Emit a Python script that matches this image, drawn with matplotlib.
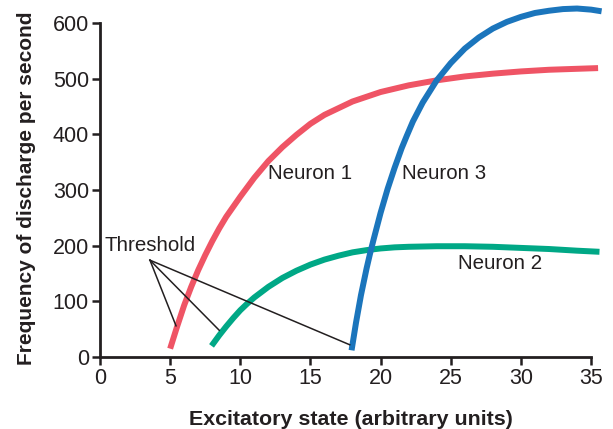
import matplotlib
matplotlib.use("Agg")
import matplotlib.pyplot as plt

# Neuron 1 (red)
n1_x = [5.0, 5.5, 6.0, 6.5, 7.0, 7.5, 8.0, 8.5, 9.0, 10.0, 11.0, 12.0, 13.0,
        14.0, 15.0, 16.0, 18.0, 20.0, 22.0, 24.0, 26.0, 28.0, 30.0, 32.0, 35.5]
n1_y = [15, 55, 93, 126, 156, 183, 208, 231, 252, 288, 322, 352, 377,
        399, 419, 435, 459, 476, 488, 497, 504, 509, 513, 516, 519]

# Neuron 2 (green)
n2_x = [7.95, 8.5, 9.0, 9.5, 10.0, 10.5, 11.0, 12.0, 13.0, 14.0, 15.0, 16.0,
        17.0, 18.0, 19.0, 20.0, 21.0, 22.0, 24.0, 26.0, 28.0, 30.0, 32.0, 34.0, 35.6]
n2_y = [20, 39, 55, 70, 84, 96, 107, 126, 142, 155, 166, 175,
        182, 188, 192, 195, 197, 198, 199, 199, 198, 196, 194, 191, 189]

# Neuron 3 (blue)
n3_x = [17.93, 18.25, 18.6, 19.0, 19.24, 19.5, 20.0, 20.5, 21.0, 21.5, 21.86,
        22.3, 23.0, 24.0, 25.0, 26.0, 27.0, 28.0, 29.0, 30.0, 31.0, 32.0,
        33.0, 34.0, 35.0, 35.75]
n3_y = [12, 62, 111, 159, 185, 211, 259, 302, 340, 375, 397,
        423, 457, 497, 528, 554, 574, 590, 602, 611, 618, 622,
        625, 626, 624, 621]

xticks = [0, 5, 10, 15, 20, 25, 30, 35]
yticks = [0, 100, 200, 300, 400, 500, 600]

# Threshold pointer: apex and endpoints on each curve
thr_apex = (3.56, 174)
thr_ends = [(5.42, 56), (8.5, 48), (17.8, 22)]

TXT = "#231f20"
plt.rcParams["font.family"] = ["Liberation Sans", "DejaVu Sans"]

fig = plt.figure(figsize=(6.13, 4.29), dpi=100)
ax = fig.add_axes([0.1631, 0.1678, 0.824, 0.8305])

ax.plot(n1_x, n1_y, color="#ef5465", lw=4.3, solid_capstyle="butt")
ax.plot(n2_x, n2_y, color="#00a886", lw=4.3, solid_capstyle="butt")
ax.plot(n3_x, n3_y, color="#1b75bc", lw=4.3, solid_capstyle="butt")

for ex, ey in thr_ends:
    ax.plot([thr_apex[0], ex], [thr_apex[1], ey], color=TXT, lw=1.1)

ax.text(0.35, 200, "Threshold", fontsize=14.8, color=TXT, va="center", ha="left")
ax.text(12.0, 330, "Neuron 1", fontsize=14.8, color=TXT, va="center", ha="left")
ax.text(21.5, 330, "Neuron 3", fontsize=14.8, color=TXT, va="center", ha="left")
ax.text(25.55, 168, "Neuron 2", fontsize=14.8, color=TXT, va="center", ha="left")

ax.set_xlim(0, 36)
ax.set_ylim(0, 640)
ax.set_xticks(xticks)
ax.set_yticks(yticks)
ax.spines["top"].set_visible(False)
ax.spines["right"].set_visible(False)
ax.spines["bottom"].set_bounds(0, 35)
ax.spines["left"].set_bounds(0, 600)
for s in ("bottom", "left"):
    ax.spines[s].set_linewidth(2)
    ax.spines[s].set_color(TXT)
ax.tick_params(direction="out", length=6, width=1.8, colors=TXT,
               labelsize=15.5, pad=2)

ax.set_xlabel("Excitatory state (arbitrary units)", fontsize=15.4,
              fontweight="bold", color=TXT)
ax.set_ylabel("Frequency of discharge per second", fontsize=15.0,
              fontweight="bold", color=TXT)
ax.xaxis.set_label_coords(0.496, -0.148)
ax.yaxis.set_label_coords(-0.126, 0.473)

fig.savefig("out.png", dpi=100)
